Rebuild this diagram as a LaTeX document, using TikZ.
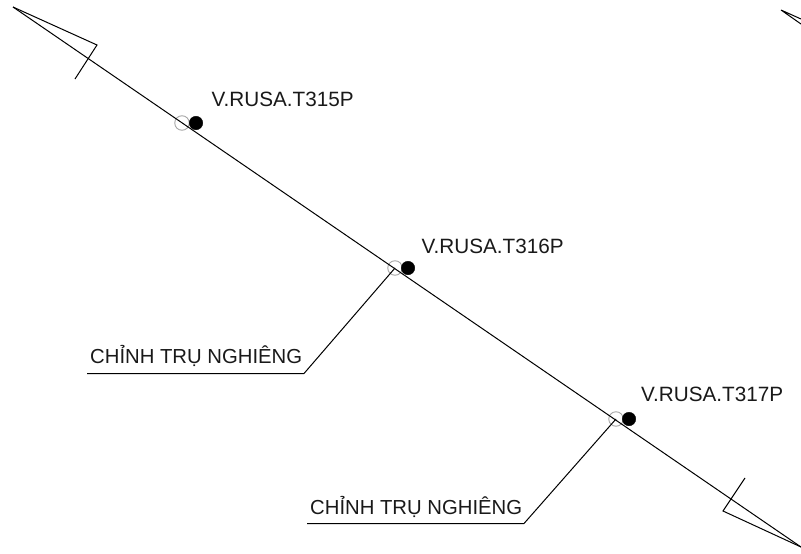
\documentclass[tikz,border=0pt]{standalone}
\usepackage{fontspec}
\setmainfont{Liberation Sans}
\usepackage{tikz}
\usetikzlibrary{calc, positioning}

\tikzset{
    opencirc/.style={circle, draw=gray!70, line width=0.9pt, minimum size=14.5pt, inner sep=0pt},
    blackcirc/.style={circle, fill=black, draw, minimum size=13.5pt, inner sep=0pt},
    lbl/.style={anchor=base west, inner sep=0pt, text=black!90, font=\fontsize{20.7}{24}\selectfont},
    note/.style={anchor=base west, inner sep=0pt, text=black!90, font=\fontsize{20.3}{24}\selectfont},
    wire/.style={draw, line width=1pt}
}

\begin{document}
\begin{tikzpicture}[x=1pt, y=-1pt]
        \useasboundingbox (0,0) rectangle (801,554);
        \coordinate (tipL) at (13,7);
        \coordinate (tipR) at (801,547);
        \coordinate (barbL1) at (97,45);
        \coordinate (barbL2) at (75,79);
        \coordinate (barbR1) at (723,511);
        \coordinate (barbR2) at (745,478);
        \coordinate (tipF) at (781,10);
        \coordinate (edgeF1) at (801,19);
        \coordinate (edgeF2) at (801,24);

        \node[opencirc](o1) at (182,123){};
        \node[opencirc](o2) at (395,268){};
        \node[opencirc](o3) at (616,419){};
        \node[blackcirc](b1) at (196,123){};
        \node[blackcirc](b2) at (408,268){};
        \node[blackcirc](b3) at (629,419){};

        \node[lbl](t1) at (211.5,106.5){V.RUSA.T315P};
        \node[lbl](t2) at (421.5,253.5){V.RUSA.T316P};
        \node[lbl](t3) at (641,401.5){V.RUSA.T317P};
        \node[note](n1) at (90,363){CHỈNH TRỤ NGHIÊNG};
        \node[note](n2) at (310,514){CHỈNH TRỤ NGHIÊNG};

        \coordinate (k1) at (304,373.5);
        \coordinate (e1) at (87,373.5);
        \coordinate (k2) at (524,523.5);
        \coordinate (e2) at (307,523.5);

        \path[wire] (tipL) -- (tipR);
        \path[wire] (tipL) -- (barbL1) -- (barbL2);
        \path[wire] (tipR) -- (barbR1) -- (barbR2);
        \path[wire] (edgeF1) -- (tipF) -- (edgeF2);
        \path[wire] (o2.center) -- (k1) -- (e1);
        \path[wire] (o3.center) -- (k2) -- (e2);
    \end{tikzpicture}
\end{document}
